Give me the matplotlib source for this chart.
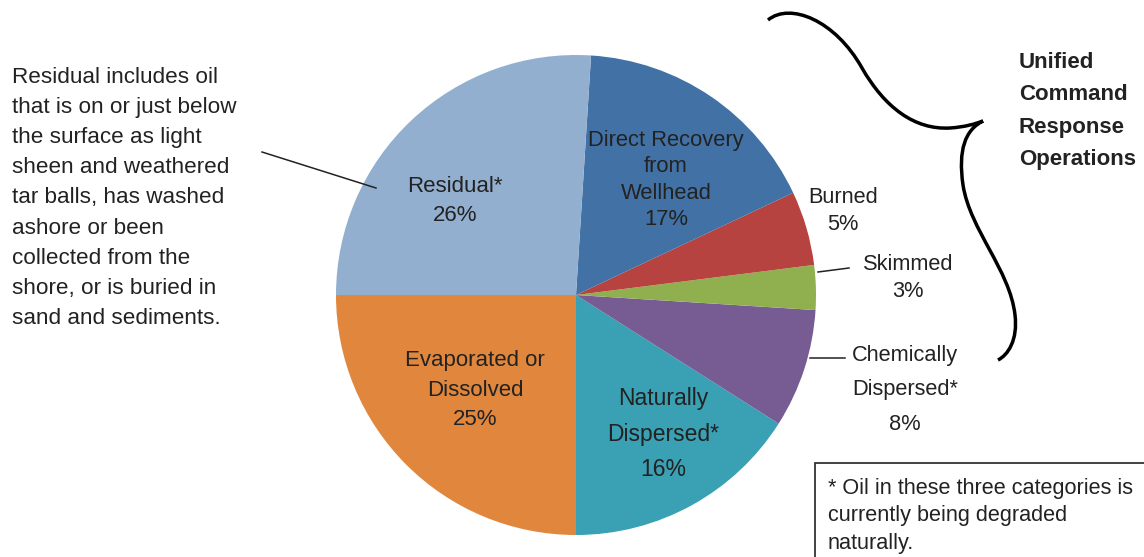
import matplotlib.pyplot as plt
from matplotlib.path import Path
from matplotlib.patches import PathPatch, Rectangle

# data (counter-clockwise from 9 o'clock)
categories = ['Evaporated or\nDissolved', 'Naturally\nDispersed*', 'Chemically\nDispersed*',
              'Skimmed', 'Burned', 'Direct Recovery\nfrom\nWellhead', 'Residual*']
shares = [25, 16, 8, 3, 5, 17, 26]
colors = ['#E0873D', '#3AA0B4', '#775C93', '#90B050', '#B6433F', '#4271A6', '#93AFCF']

note_left = ('Residual includes oil\nthat is on or just below\nthe surface as light\n'
             'sheen and weathered\ntar balls, has washed\nashore or been\n'
             'collected from the\nshore, or is buried in\nsand and sediments.')
brace_label = 'Unified\nCommand\nResponse\nOperations'
footnote = '* Oil in these three categories is\ncurrently being degraded\nnaturally.'

W, H = 1144, 557
plt.rcParams['font.family'] = ['Liberation Sans', 'DejaVu Sans']
TXT = '#222222'

fig = plt.figure(figsize=(W / 100, H / 100), dpi=100)
ax = fig.add_axes([0, 0, 1, 1])

# y axis is flipped below, so clockwise in data = counter-clockwise on screen
ax.pie(shares, colors=colors, startangle=180, counterclock=False,
       center=(576, 295), radius=240, wedgeprops=dict(linewidth=0))
ax.set_xlim(0, W)
ax.set_ylim(H, 0)
ax.set_aspect('equal')
ax.axis('off')

# label positions (x, y of text center) and line spacing
label_pos = [(475, 390, 1.53), (663, 434, 1.68), (905, 390, 1.86),
             (908, 278, 1.35), (843, 211, 1.35), (666, 180, 1.33), (455, 201, 1.5)]
label_size = [16, 16.5, 15.7, 15.7, 15.7, 15.8, 16]
for name, val, (x, y, ls), fs in zip(categories, shares, label_pos, label_size):
    ax.text(x, y, f'{name}\n{val}%', ha='center', va='center', fontsize=fs,
            color=TXT, linespacing=ls, multialignment='center')

# leader lines
ax.plot([262, 376], [152, 188], color='#222222', lw=1.1)
ax.plot([818, 849], [272, 268], color='#222222', lw=1.1)
ax.plot([810, 845], [358, 358], color='#222222', lw=1.1)

ax.text(12, 198, note_left, ha='left', va='center', fontsize=16.2,
        color=TXT, linespacing=1.57)

# curly brace
verts = [(768, 20), (790, 2), (835, 20), (862, 68),
         (885, 108), (915, 130), (950, 128),
         (965, 127), (975, 124), (983, 121),
         (965, 130), (958, 150), (963, 185),
         (970, 230), (1010, 270), (1015, 315),
         (1018, 340), (1008, 355), (998, 360)]
codes = [Path.MOVETO] + [Path.CURVE4] * (len(verts) - 1)
ax.add_patch(PathPatch(Path(verts, codes), facecolor='none', edgecolor='black', lw=2.5))

ax.text(1019, 111, brace_label, ha='left', va='center', fontsize=16,
        fontweight='bold', color=TXT, linespacing=1.7)

# footnote box
ax.add_patch(Rectangle((815, 463), 340, 110, facecolor='white', edgecolor='#333333',
                       lw=1.3, clip_on=False))
ax.text(828, 516, footnote, ha='left', va='center', fontsize=15.6,
        color=TXT, linespacing=1.43)

fig.savefig('out.png', dpi=100)
